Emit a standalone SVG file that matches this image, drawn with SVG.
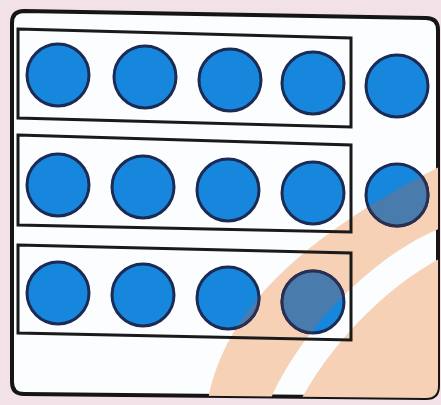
<svg xmlns="http://www.w3.org/2000/svg" width="441" height="405" viewBox="0 0 441 405">
<style>
.bg{fill:#f3e1e8}
.frame{fill:#fbfdfe;stroke:#151515;stroke-width:4}
.box{fill:none;stroke:#1a1a1a;stroke-width:3;stroke-linejoin:miter}
.dot{fill:#1787dd;stroke:#1b2b55;stroke-width:3}
.dim{fill:#4a7bad;stroke:#2a2f50;stroke-width:3}
.peach{fill:#f6d1b5}
</style>
<defs>
<clipPath id="frameClip"><path d="M24,11 L426,18 Q438,18 438,30 L438,386 Q438,398 426,398 L24,394 Q12,394 12,382 L12,23 Q12,11 24,11 Z"/></clipPath>
<clipPath id="bandClip"><path d="M207,405 C220,330 272,252 441,166 L441,228 C385,250 305,318 268,405 Z"/></clipPath>
</defs>
<rect class="bg" x="0" y="0" width="441" height="405"/>
<g id="frame">
<path class="frame" d="M24,11 L426,18 Q438,18 438,30 L438,386 Q438,398 426,398 L24,394 Q12,394 12,382 L12,23 Q12,11 24,11 Z"/>
<g clip-path="url(#frameClip)">
<path class="peach" d="M207,405 C220,330 272,252 441,166 L441,228 C385,250 305,318 268,405 Z"/>
<path class="peach" d="M441,258 C395,282 335,335 298,405 L441,405 Z"/>
</g>
</g>
<g id="row1">
<polygon class="box" points="18,29 351,38 351,127 18,118"/>
<circle class="dot" cx="58" cy="75" r="31"/>
<circle class="dot" cx="145" cy="77" r="31"/>
<circle class="dot" cx="230" cy="80" r="31"/>
<circle class="dot" cx="313" cy="83" r="31"/>
</g>
<g id="extra1"><circle class="dot" cx="397" cy="86" r="31"/></g>
<g id="row2">
<polygon class="box" points="18,135 351,145 351,232 18,225"/>
<circle class="dot" cx="58" cy="185" r="31"/>
<circle class="dot" cx="143" cy="187" r="31"/>
<circle class="dot" cx="228" cy="190" r="31"/>
<circle class="dot" cx="313" cy="193" r="31"/>
</g>
<g id="extra2"><circle class="dot" cx="397" cy="195" r="31"/></g>
<g id="row3">
<polygon class="box" points="18,245 351,253 351,340 18,333"/>
<circle class="dot" cx="58" cy="293" r="31"/>
<circle class="dot" cx="143" cy="295" r="31"/>
<circle class="dot" cx="228" cy="298" r="31"/>
<circle class="dot" cx="313" cy="302" r="31"/>
</g>
<g id="shaded" clip-path="url(#bandClip)">
<circle class="dim" cx="313" cy="193" r="31"/>
<circle class="dim" cx="397" cy="195" r="31"/>
<circle class="dim" cx="228" cy="298" r="31"/>
<circle class="dim" cx="313" cy="302" r="31"/>
</g>
</svg>
